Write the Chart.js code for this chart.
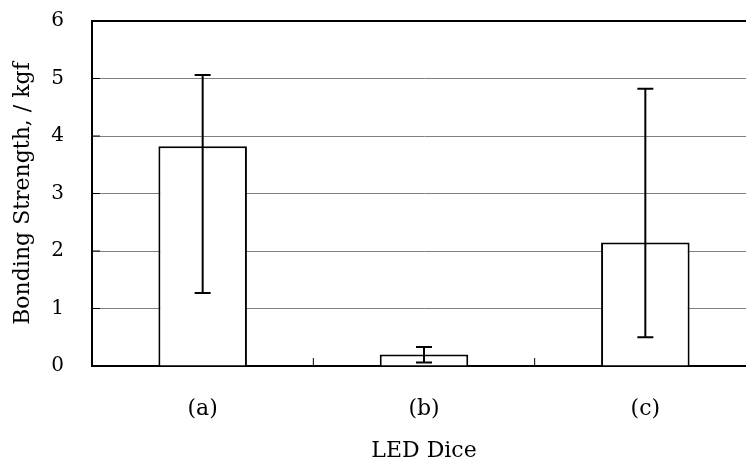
<!DOCTYPE html>
<html lang="en">
<head>
    <meta charset="UTF-8">
    <title>Bonding Strength</title>
    <script src="https://cdn.jsdelivr.net/npm/chart.js"></script>
    <style>
        html, body {
            margin: 0;
            padding: 0;
            background: #ffffff;
            overflow: hidden;
        }
        .chart-box {
            width: 770px;
            height: 466px;
        }
    </style>
</head>
<body>
    <div class="chart-box">
        <canvas id="bondChart"></canvas>
    </div>

    <script>
        // data
        const categories = ['(a)', '(b)', '(c)'];
        const strength = [3.82, 0.20, 2.15];
        const errLow = [1.27, 0.06, 0.50];
        const errHigh = [5.06, 0.33, 4.82];
        const yTicks = [0, 1, 2, 3, 4, 5, 6];

        const serif = "'DejaVu Serif', serif";

        // error bars, frame and inward ticks
        const errorBars = {
            id: 'errorBars',
            afterDatasetsDraw(chart) {
                const ctx = chart.ctx;
                const x = chart.scales.x;
                const y = chart.scales.y;
                const area = chart.chartArea;
                ctx.save();
                ctx.strokeStyle = '#000';
                ctx.lineWidth = 2;
                categories.forEach((c, i) => {
                    const cx = x.getPixelForValue(i);
                    const top = y.getPixelForValue(errHigh[i]);
                    const bot = y.getPixelForValue(errLow[i]);
                    ctx.beginPath();
                    ctx.moveTo(cx, top);
                    ctx.lineTo(cx, bot);
                    ctx.moveTo(cx - 8, top);
                    ctx.lineTo(cx + 8, top);
                    ctx.moveTo(cx - 8, bot);
                    ctx.lineTo(cx + 8, bot);
                    ctx.stroke();
                });
                // inward ticks between categories
                ctx.lineWidth = 1;
                for (let i = 0; i < categories.length - 1; i++) {
                    const bx = (x.getPixelForValue(i) + x.getPixelForValue(i + 1)) / 2;
                    ctx.beginPath();
                    ctx.moveTo(bx, area.bottom);
                    ctx.lineTo(bx, area.bottom - 8);
                    ctx.stroke();
                }
                // inward ticks on y axis
                yTicks.forEach(v => {
                    const py = y.getPixelForValue(v);
                    ctx.beginPath();
                    ctx.moveTo(area.left, py);
                    ctx.lineTo(area.left + 8, py);
                    ctx.stroke();
                });
                // top frame line
                ctx.lineWidth = 2;
                ctx.beginPath();
                ctx.moveTo(area.left - 1, area.top);
                ctx.lineTo(area.right, area.top);
                ctx.stroke();
                ctx.restore();
            }
        };

        const bondCtx = document.getElementById('bondChart').getContext('2d');
        const bondChart = new Chart(bondCtx, {
            type: 'bar',
            data: {
                labels: categories,
                datasets: [{
                    label: 'Bonding Strength',
                    data: strength,
                    backgroundColor: '#ffffff',
                    borderColor: '#000000',
                    borderWidth: 2,
                    borderSkipped: 'bottom',
                    barPercentage: 0.4,
                    categoryPercentage: 1.0
                }]
            },
            options: {
                responsive: true,
                maintainAspectRatio: false,
                animation: false,
                layout: {
                    padding: { top: 21, right: 14, left: 0, bottom: 0 }
                },
                plugins: {
                    legend: { display: false },
                    tooltip: { enabled: false }
                },
                scales: {
                    x: {
                        offset: true,
                        grid: { display: false, drawTicks: false },
                        border: { display: true, color: '#000', width: 2 },
                        ticks: {
                            color: '#000',
                            padding: 30,
                            font: { family: serif, size: 22 }
                        },
                        title: {
                            display: true,
                            text: 'LED Dice',
                            color: '#000',
                            padding: { top: 0, bottom: 2 },
                            font: { family: serif, size: 22 }
                        },
                        afterFit(scale) {
                            scale.height = 100;
                            scale.paddingLeft = 0;
                            scale.paddingRight = 0;
                        }
                    },
                    y: {
                        min: 0,
                        max: 6,
                        afterBuildTicks(scale) {
                            scale.ticks = yTicks.map(v => ({ value: v }));
                        },
                        grid: {
                            drawTicks: false,
                            color: ctx => ctx.tick && (ctx.tick.value === 0 || ctx.tick.value === 6) ? 'rgba(0,0,0,0)' : '#808080',
                            lineWidth: 1
                        },
                        border: { display: true, color: '#000', width: 2 },
                        ticks: {
                            color: '#000',
                            padding: 28,
                            font: { family: serif, size: 20 }
                        },
                        title: {
                            display: true,
                            text: 'Bonding Strength, / kgf',
                            color: '#000',
                            padding: { top: 10, bottom: 0 },
                            font: { family: serif, size: 22 }
                        },
                        afterFit(scale) {
                            scale.width = 92;
                            scale.paddingTop = 0;
                            scale.paddingBottom = 0;
                        }
                    }
                }
            },
            plugins: [errorBars]
        });
    </script>
</body>
</html>
